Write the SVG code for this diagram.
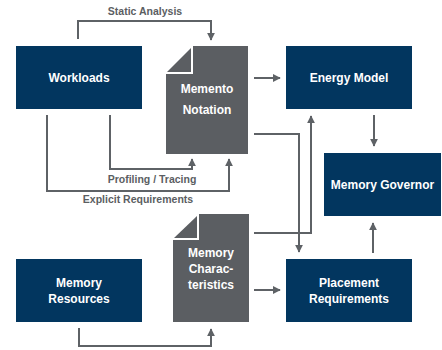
<svg xmlns="http://www.w3.org/2000/svg" width="442" height="350" viewBox="0 0 442 350">
<style>
.box{fill:#02365f}
.doc{fill:#5b5e62}
.t{font-family:"Liberation Sans",Arial,sans-serif;font-weight:bold;font-size:12px;fill:#ffffff;text-anchor:middle}
.lbl{font-family:"Liberation Sans",Arial,sans-serif;font-weight:bold;font-size:10.5px;fill:#5b5e62;text-anchor:middle}
.c{fill:none;stroke:#5e6266;stroke-width:2;marker-end:url(#ah)}
</style>
<defs>
<marker id="ah" viewBox="0 0 10 10" refX="9" refY="5" markerWidth="4" markerHeight="4" orient="auto" markerUnits="strokeWidth">
<path d="M0,0 L10,5 L0,10 z" fill="#5e6266"/>
</marker>
</defs>
<rect width="442" height="350" fill="#ffffff"/>
<g id="connectors">
<polyline class="c" points="78,39 78,21 211,21 211,40"/>
<polyline class="c" points="110,115 110,169 192,169 192,159"/>
<polyline class="c" points="47,115 47,191 229,191 229,159"/>
<polyline class="c" points="79,328 79,346 211,346 211,329"/>
<polyline class="c" points="254,78 280,78"/>
<polyline class="c" points="254,134 299,134 299,252"/>
<polyline class="c" points="254,233 311,233 311,116"/>
<polyline class="c" points="254,290 280,290"/>
<polyline class="c" points="374,115 374,146"/>
<polyline class="c" points="373,253 373,223"/>
<text class="lbl" x="145" y="15">Static Analysis</text>
<text class="lbl" x="152" y="183">Profiling / Tracing</text>
<text class="lbl" x="138" y="203">Explicit Requirements</text>
</g>
<g id="workloads">
<rect class="box" x="16" y="46" width="126" height="63"/>
<text class="t" x="79" y="82">Workloads</text>
</g>
<g id="memento-notation">
<polygon class="doc" points="193,46 248,46 248,154 166,154 166,74 193,74"/>
<polygon class="doc" points="191,48 191,72 167,72"/>
<text class="t" x="207" y="93">Memento</text>
<text class="t" x="207" y="114">Notation</text>
</g>
<g id="energy-model">
<rect class="box" x="286" y="46" width="126" height="63"/>
<text class="t" x="349" y="82">Energy Model</text>
</g>
<g id="memory-governor">
<rect class="box" x="324" y="153" width="117" height="63"/>
<text class="t" x="382.5" y="189">Memory Governor</text>
</g>
<g id="placement-requirements">
<rect class="box" x="286" y="259" width="126" height="63"/>
<text class="t" x="349" y="287">Placement</text>
<text class="t" x="349" y="303">Requirements</text>
</g>
<g id="memory-resources">
<rect class="box" x="16" y="259" width="126" height="63"/>
<text class="t" x="79" y="287">Memory</text>
<text class="t" x="79" y="303">Resources</text>
</g>
<g id="memory-characteristics">
<polygon class="doc" points="199,214 249,214 249,322 173,322 173,240 199,240"/>
<polygon class="doc" points="197,216 197,238 174,238"/>
<text class="t" x="211" y="257">Memory</text>
<text class="t" x="211" y="273">Charac-</text>
<text class="t" x="211" y="289">teristics</text>
</g>
</svg>
